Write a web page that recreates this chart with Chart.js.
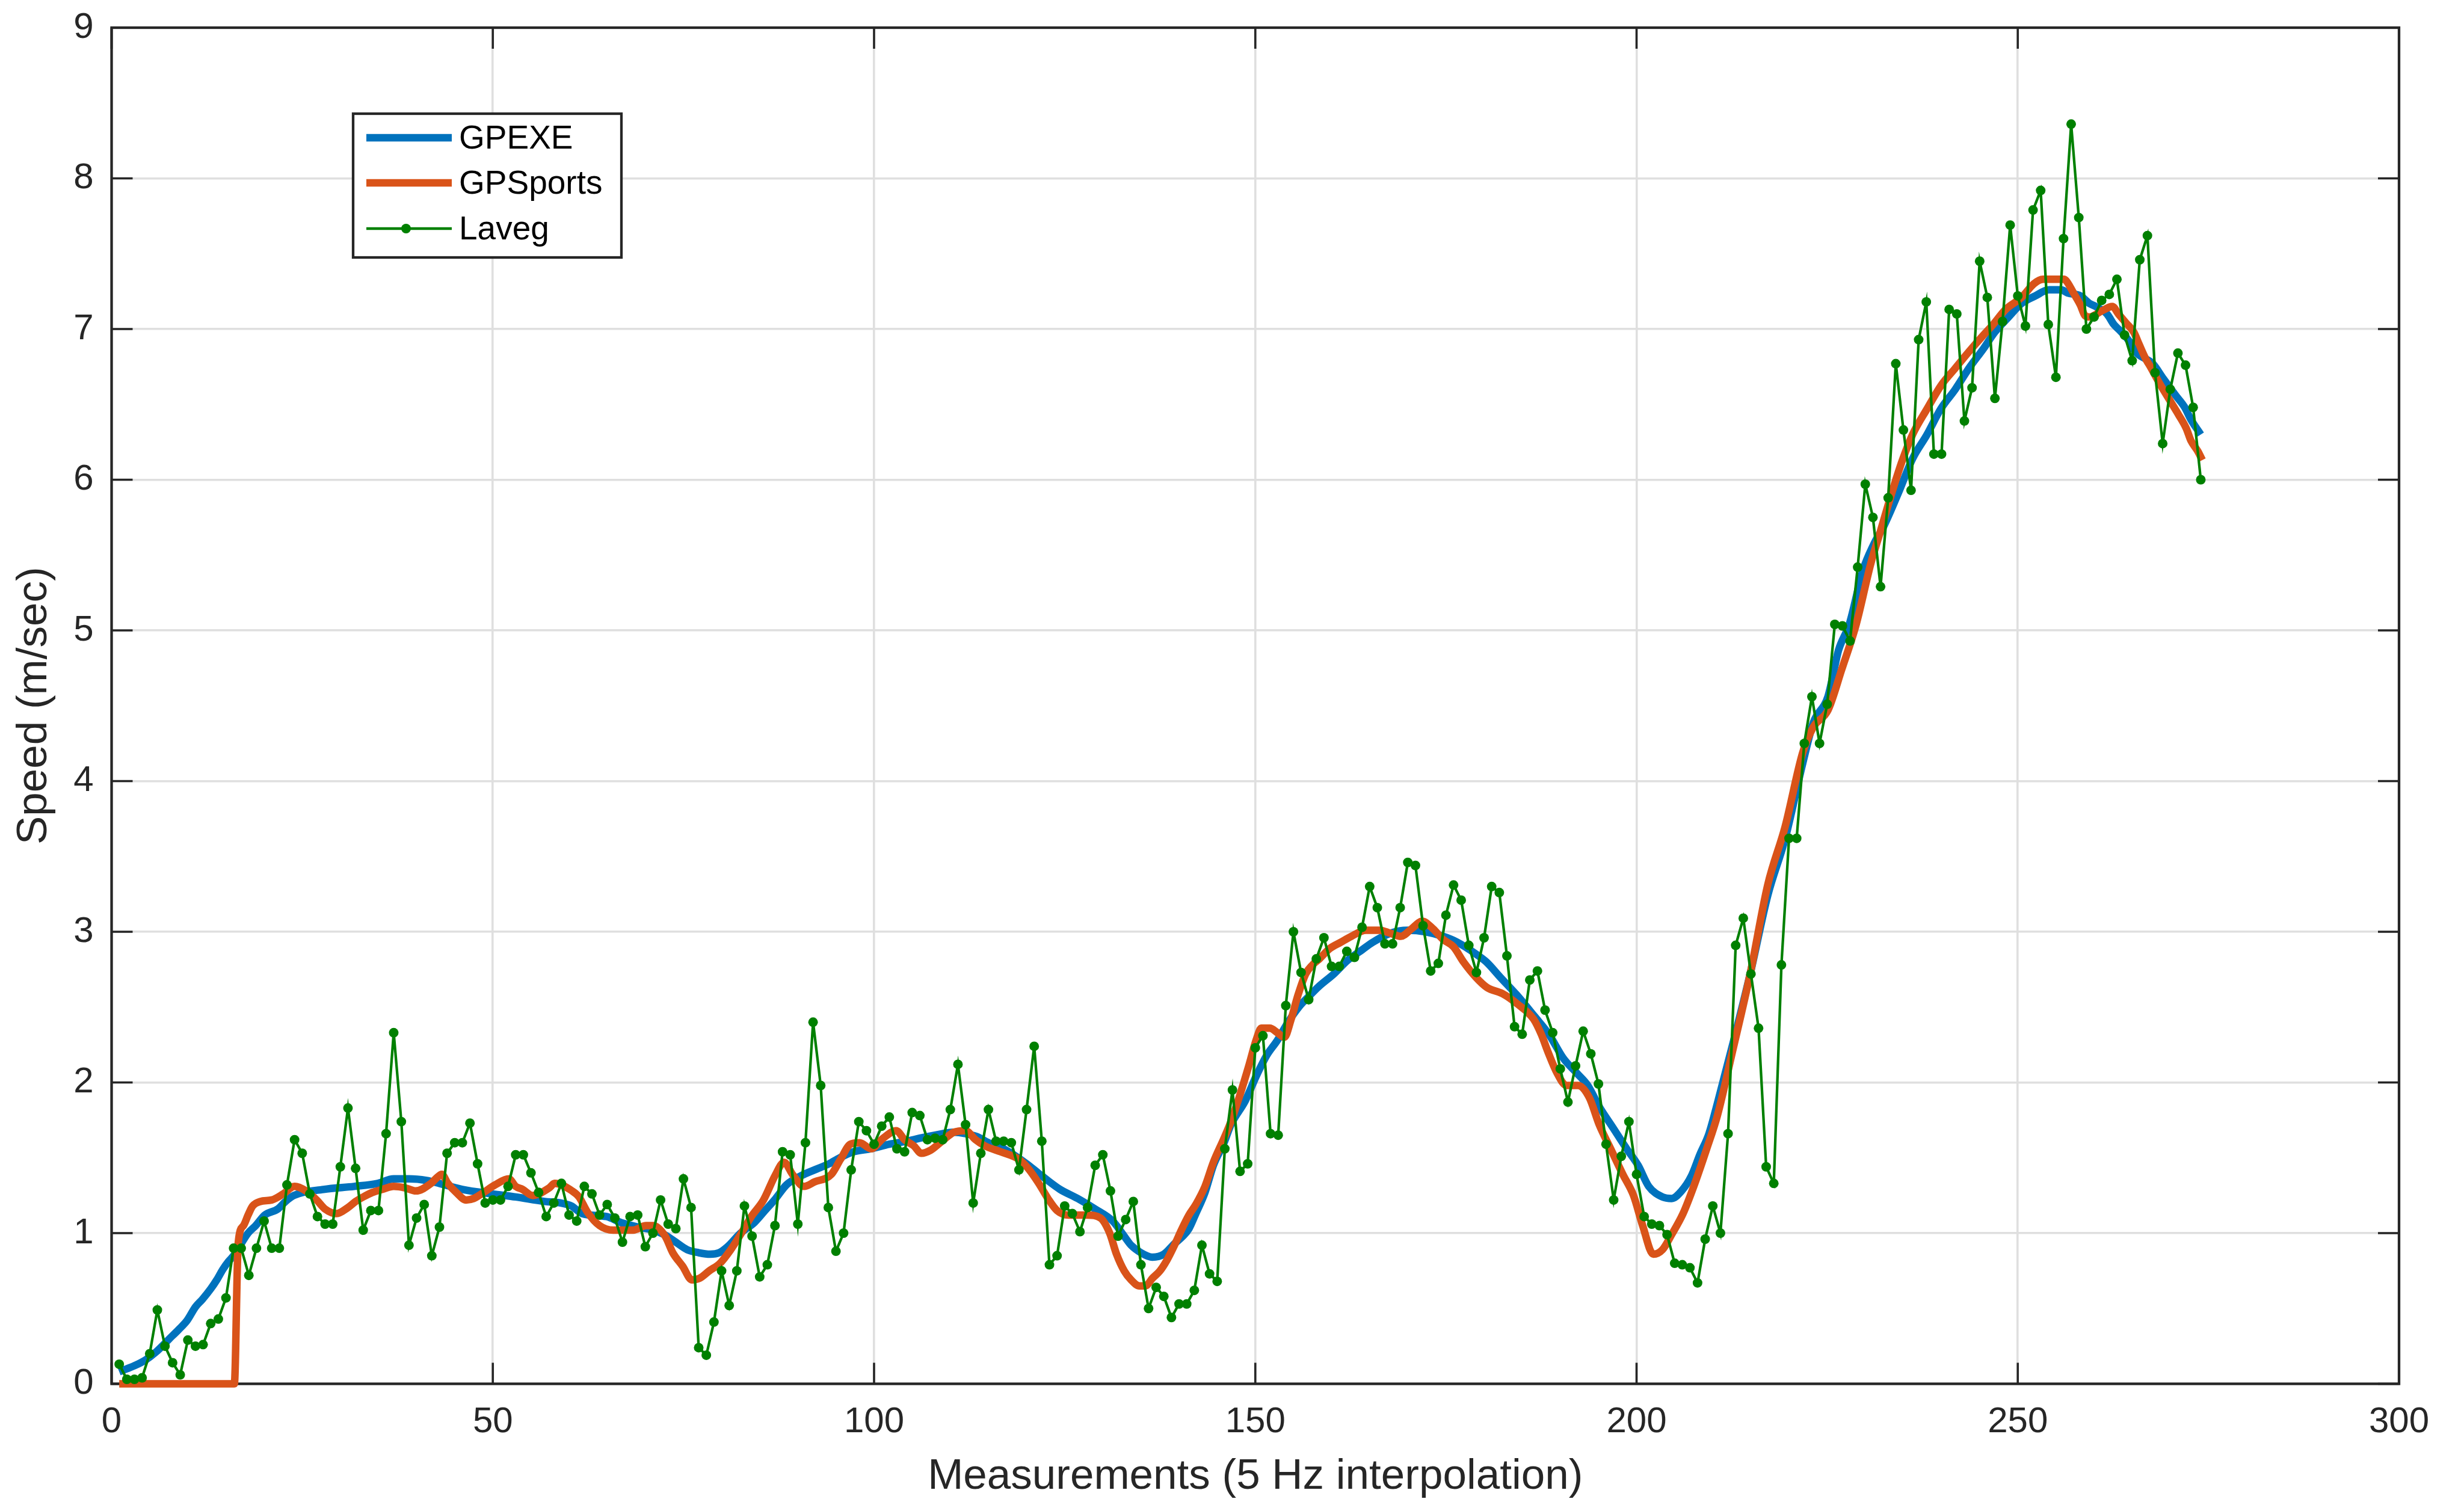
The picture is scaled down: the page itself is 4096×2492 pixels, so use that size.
<!DOCTYPE html>
<html>
<head>
<meta charset="utf-8">
<script src="https://cdn.jsdelivr.net/npm/chart.js@4.4.1/dist/chart.umd.min.js"></script>
<style>
  html, body { margin: 0; padding: 0; background: #ffffff; }
  #wrap { position: relative; width: 4096px; height: 2492px; }
</style>
</head>
<body>
<div id="wrap"><canvas id="c"></canvas></div>
<script>
// ---------------- data ----------------
const seriesNames = ['GPEXE', 'GPSports', 'Laveg'];
const xTitle = 'Measurements (5 Hz interpolation)';
const yTitle = 'Speed (m/sec)';
const xTicks = [0, 50, 100, 150, 200, 250, 300];
const yTicks = [0, 1, 2, 3, 4, 5, 6, 7, 8, 9];

const gpexeX = [1,2,3,4.5,5.8,7.6,8.8,9.9,11,11.9,13,13.8,14.6,15.3,16,17.9,18.9,20.1,21.8,22.8,23.9,27.8,31.8,34.9,37,39,41.3,43,46,50,53,56.8,58.9,60.3,61.7,64.9,66.8,69.1,71,72.5,74,75.5,77,78.5,79.7,80.8,82.5,84.3,85.7,87.1,88.5,90.4,92.7,94.1,95.5,97.3,99.6,102,104.3,106,108,110.5,112,113.5,115,117,118.6,120,121.5,122.5,124.4,126.7,129,131.3,132.8,133.7,135,136.5,138,139.4,140.5,141.3,142.2,143.4,144.5,145.9,146.8,148.7,150.1,151.5,152.9,154.3,155.7,157,158.4,160.3,162.1,164,165.4,167.7,170,172.3,174.6,176.5,179,180.3,182.1,184.3,186.6,188.5,190.4,192.2,193.6,195.1,196.9,198.7,200.2,201.6,203.4,204.6,205.9,207.2,208.3,209.5,210.6,212.6,214.9,217.2,219.5,221.8,223.2,225.1,226.5,227.9,229.7,231.1,232.5,234.4,236.2,238.1,239.9,241.8,243.6,245.5,247,248.8,250.5,252.3,254.1,255.7,256.5,258.2,259.4,260.2,261.7,262.6,263.4,264.6,265.4,267.7,269.1,270.7,271.9,272.7,274];
const gpexeY = [0.08,0.10,0.12,0.16,0.21,0.30,0.36,0.42,0.51,0.56,0.63,0.69,0.76,0.81,0.85,1.00,1.05,1.12,1.16,1.21,1.25,1.29,1.31,1.33,1.36,1.36,1.35,1.33,1.29,1.26,1.24,1.21,1.20,1.18,1.13,1.11,1.07,1.04,1.02,0.99,0.94,0.89,0.87,0.86,0.87,0.91,1.00,1.07,1.15,1.23,1.32,1.38,1.43,1.46,1.50,1.54,1.56,1.59,1.61,1.63,1.65,1.67,1.66,1.64,1.60,1.56,1.51,1.46,1.40,1.36,1.29,1.23,1.16,1.08,0.98,0.92,0.87,0.84,0.86,0.93,0.98,1.03,1.13,1.27,1.45,1.60,1.72,1.88,2.04,2.18,2.28,2.40,2.50,2.57,2.64,2.72,2.81,2.88,2.93,2.99,3.01,3.00,2.97,2.93,2.85,2.80,2.70,2.58,2.44,2.32,2.16,2.06,1.98,1.84,1.70,1.56,1.45,1.31,1.24,1.23,1.28,1.38,1.52,1.66,1.86,2.25,2.72,3.24,3.62,4.12,4.39,4.56,4.87,5.04,5.40,5.57,5.70,5.92,6.14,6.30,6.47,6.60,6.74,6.87,6.98,7.08,7.17,7.22,7.26,7.26,7.24,7.22,7.17,7.15,7.10,7.03,6.99,6.92,6.85,6.77,6.67,6.56,6.48,6.40,6.30];

const gpsportsX = [1,16.1,16.6,17.3,17.9,18.5,19.5,21,22.5,24,25.5,26.9,28,29.5,31,32,33,34.2,35.5,37,38.5,39.9,41.9,42.7,43.3,44.1,45.2,46.5,47.5,48.5,50.3,52.1,53,53.9,55.2,57.4,58.1,60.4,61.3,62.4,64,65.8,68.4,70.1,71,72.6,73.6,74.9,76.1,77.1,78.4,79.8,81.2,82.6,83.9,85.5,87,88.2,89.3,90.8,92.2,94.4,95.6,96.9,98.1,99.6,101.2,102.9,104,105.2,106.2,107.4,108.9,110.5,112,113.3,114.5,116.6,119,120.2,121.6,122.8,124,125.5,128,129.7,130.9,131.8,132.8,133.7,134.8,135.6,136.5,137.5,138.4,139.4,140.3,141.3,142.2,143.4,144.5,145.9,146.8,148,149.2,150.1,150.8,151.9,152.9,153.8,154.7,155.6,156.6,157.5,158.4,159.8,161.2,162.6,164.5,166.3,167.7,169.1,170.5,171.9,173.3,174.6,176,177.3,178.9,180.4,182.4,184.4,186.5,187.5,188.4,189.6,190.8,192.3,193.8,195.1,196.6,198.2,199.6,200.8,202.2,203.4,204.6,206.1,207.5,209.2,210.6,212.6,214.9,217.2,219.5,221.8,223.2,225.1,226.9,228.8,230.7,232,233.4,234.8,236.2,238.1,240,241.8,243.6,245.5,246.6,248.4,250.5,252.1,253.3,256.1,256.5,257.3,258.2,258.8,259.4,261,262.4,263.2,264.2,265.2,265.9,266.7,267.5,268.7,269.9,271.1,272.1,272.7,273.6,274.2];
const gpsportsY = [0,0,0.93,1.05,1.12,1.18,1.21,1.22,1.26,1.31,1.28,1.22,1.16,1.13,1.17,1.21,1.24,1.27,1.29,1.31,1.30,1.28,1.33,1.37,1.39,1.33,1.27,1.22,1.23,1.26,1.32,1.36,1.31,1.29,1.25,1.30,1.33,1.28,1.24,1.14,1.05,1.02,1.02,1.05,1.05,0.98,0.87,0.78,0.69,0.70,0.75,0.80,0.89,1.00,1.11,1.22,1.38,1.47,1.39,1.31,1.34,1.39,1.49,1.59,1.60,1.56,1.63,1.68,1.62,1.58,1.53,1.55,1.61,1.67,1.68,1.62,1.58,1.54,1.49,1.43,1.33,1.23,1.15,1.12,1.12,1.10,1.00,0.86,0.75,0.69,0.65,0.65,0.70,0.75,0.82,0.92,1.02,1.12,1.19,1.31,1.47,1.63,1.74,1.92,2.12,2.28,2.36,2.36,2.33,2.30,2.42,2.58,2.72,2.78,2.82,2.89,2.93,2.97,3.01,3.01,2.99,2.97,3.02,3.07,3.02,2.95,2.90,2.80,2.70,2.63,2.59,2.52,2.42,2.32,2.20,2.06,1.98,1.98,1.90,1.72,1.56,1.39,1.25,1.05,0.86,0.89,0.99,1.13,1.31,1.56,1.78,2.21,2.72,3.31,3.70,4.19,4.36,4.47,4.74,5.04,5.44,5.66,5.90,6.12,6.30,6.47,6.63,6.74,6.85,6.96,7.02,7.13,7.21,7.30,7.33,7.33,7.31,7.24,7.16,7.09,7.08,7.12,7.15,7.10,7.04,6.98,6.90,6.81,6.74,6.63,6.53,6.43,6.34,6.26,6.19,6.13];

const lavegY = [
  0.13,0.03,0.03,0.04,0.20,0.49,0.25,0.14,0.06,0.29,
  0.25,0.26,0.40,0.43,0.57,0.90,0.90,0.72,0.90,1.08,
  0.90,0.90,1.32,1.62,1.53,1.26,1.11,1.06,1.06,1.44,
  1.83,1.43,1.02,1.15,1.15,1.66,2.33,1.74,0.92,1.10,
  1.19,0.85,1.04,1.53,1.60,1.60,1.73,1.46,1.20,1.22,
  1.22,1.31,1.52,1.52,1.40,1.27,1.11,1.20,1.33,1.12,
  1.08,1.31,1.26,1.12,1.19,1.10,0.94,1.11,1.12,0.91,
  1.00,1.22,1.06,1.03,1.36,1.17,0.24,0.19,0.41,0.75,
  0.52,0.75,1.18,0.98,0.71,0.79,1.05,1.54,1.52,1.06,
  1.60,2.40,1.98,1.17,0.88,1.00,1.42,1.74,1.68,1.59,
  1.71,1.77,1.56,1.54,1.80,1.78,1.62,1.63,1.62,1.82,
  2.12,1.72,1.20,1.53,1.82,1.61,1.61,1.60,1.42,1.82,
  2.24,1.61,0.79,0.85,1.18,1.13,1.01,1.17,1.45,1.52,
  1.28,0.98,1.09,1.21,0.79,0.50,0.64,0.58,0.44,0.53,
  0.53,0.62,0.92,0.73,0.68,1.56,1.95,1.41,1.46,2.23,
  2.31,1.66,1.65,2.51,3.00,2.73,2.55,2.82,2.96,2.77,
  2.77,2.87,2.83,3.03,3.30,3.16,2.92,2.92,3.16,3.46,
  3.44,3.04,2.74,2.79,3.11,3.31,3.21,2.91,2.73,2.96,
  3.30,3.26,2.84,2.37,2.32,2.68,2.74,2.48,2.33,2.09,
  1.87,2.11,2.34,2.19,1.99,1.59,1.22,1.51,1.74,1.39,
  1.11,1.06,1.05,0.99,0.80,0.79,0.77,0.67,0.96,1.18,
  1.00,1.66,2.91,3.09,2.72,2.36,1.44,1.33,2.78,3.62,
  3.62,4.25,4.56,4.25,4.51,5.04,5.03,4.93,5.42,5.97,
  5.75,5.29,5.88,6.77,6.33,5.93,6.93,7.18,6.17,6.17,
  7.13,7.10,6.39,6.61,7.45,7.21,6.54,7.05,7.69,7.22,
  7.02,7.79,7.92,7.03,6.68,7.60,8.36,7.74,7.00,7.08,
  7.19,7.23,7.33,6.96,6.79,7.46,7.62,6.71,6.24,6.60,
  6.84,6.76,6.48,6.00
];
const lavegX = lavegY.map((_, i) => i + 1);

// ---------------- style ----------------
const FONT = "'Liberation Sans', Arial, Helvetica, sans-serif";
const AXIS_COLOR = '#262626';
const GRID_COLOR = '#dfdfdf';
const COLORS = ['#0072BD', '#D95319', '#008000'];

const toPoints = (xs, ys) => xs.map((x, i) => ({ x: x, y: ys[i] }));

const boxPlugin = {
  id: 'matlabBox',
  beforeDatasetsDraw(chart) {
    const { ctx, chartArea: a, scales } = chart;
    const xs = scales.x, ys = scales.y;
    const tl = 35;
    ctx.save();
    ctx.strokeStyle = AXIS_COLOR;
    ctx.lineWidth = 3.6;
    ctx.lineCap = 'butt';
    ctx.beginPath();
    xTicks.forEach(v => {
      const px = xs.getPixelForValue(v);
      ctx.moveTo(px, a.bottom); ctx.lineTo(px, a.bottom - tl);
      ctx.moveTo(px, a.top); ctx.lineTo(px, a.top + tl);
    });
    yTicks.forEach(v => {
      const py = ys.getPixelForValue(v);
      ctx.moveTo(a.left, py); ctx.lineTo(a.left + tl, py);
      ctx.moveTo(a.right, py); ctx.lineTo(a.right - tl, py);
    });
    ctx.stroke();
    ctx.lineWidth = 4.3;
    ctx.lineJoin = 'miter';
    ctx.strokeRect(a.left, a.top, a.right - a.left, a.bottom - a.top);
    ctx.restore();
  },
  afterDraw(chart) {
    const { ctx, chartArea: a } = chart;
    const L = a.left + 401.5, T = a.top + 143, W = 446, H = 239;
    const rows = [40, 115, 191];
    ctx.save();
    ctx.fillStyle = '#ffffff';
    ctx.fillRect(L, T, W, H);
    ctx.strokeStyle = AXIS_COLOR;
    ctx.lineWidth = 4.3;
    ctx.strokeRect(L, T, W, H);
    chart.data.datasets.forEach((ds, i) => {
      const y = T + rows[i];
      ctx.strokeStyle = ds.borderColor;
      ctx.lineWidth = ds.borderWidth;
      ctx.lineCap = 'butt';
      ctx.beginPath();
      ctx.moveTo(L + 22, y);
      ctx.lineTo(L + 164, y);
      ctx.stroke();
      if (ds.pointRadius > 0) {
        ctx.fillStyle = ds.pointBackgroundColor;
        ctx.beginPath();
        ctx.arc(L + 88, y, ds.pointRadius, 0, Math.PI * 2);
        ctx.fill();
      }
      ctx.fillStyle = '#000000';
      ctx.font = '55px ' + FONT;
      ctx.textAlign = 'left';
      ctx.textBaseline = 'middle';
      ctx.fillText(ds.label, L + 176, y + 3);
    });
    ctx.restore();
  }
};

const tickFont = { family: FONT, size: 60 };
const titleFont = { family: FONT, size: 71, lineHeight: 1 };

new Chart(document.getElementById('c'), {
  type: 'line',
  data: {
    datasets: [
      {
        label: seriesNames[0], data: toPoints(gpexeX, gpexeY),
        borderColor: COLORS[0], backgroundColor: COLORS[0], borderWidth: 12.5,
        pointRadius: 0, cubicInterpolationMode: 'monotone', order: 3, clip: false,
        borderJoinStyle: 'round'
      },
      {
        label: seriesNames[1], data: toPoints(gpsportsX, gpsportsY),
        borderColor: COLORS[1], backgroundColor: COLORS[1], borderWidth: 12.5,
        pointRadius: 0, cubicInterpolationMode: 'monotone', order: 2, clip: false,
        borderJoinStyle: 'round'
      },
      {
        label: seriesNames[2], data: toPoints(lavegX, lavegY),
        borderColor: COLORS[2], backgroundColor: COLORS[2], borderWidth: 4.3,
        pointRadius: 8, pointBorderWidth: 0, pointBackgroundColor: COLORS[2],
        pointStyle: 'circle', tension: 0, order: 1, clip: false
      }
    ]
  },
  options: {
    responsive: true,
    maintainAspectRatio: false,
    devicePixelRatio: 1,
    animation: false,
    events: [],
    layout: { padding: { left: 0, top: 46, right: 108, bottom: 0 } },
    plugins: { legend: { display: false }, tooltip: { enabled: false } },
    scales: {
      x: {
        type: 'linear', min: 0, max: 300,
        afterBuildTicks: s => { s.ticks = xTicks.map(v => ({ value: v })); },
        ticks: { font: tickFont, color: AXIS_COLOR, padding: 28, maxRotation: 0, autoSkip: false },
        grid: { color: GRID_COLOR, lineWidth: 3.6, drawTicks: false },
        border: { display: false },
        title: { display: true, text: xTitle, font: titleFont, color: AXIS_COLOR, padding: { top: 0, bottom: 1 } },
        afterFit: s => { s.height = 191.5; s.paddingLeft = 0; s.paddingRight = 0; }
      },
      y: {
        type: 'linear', min: 0, max: 9,
        afterBuildTicks: s => { s.ticks = yTicks.map(v => ({ value: v })); },
        ticks: { font: tickFont, color: AXIS_COLOR, padding: 30, autoSkip: false },
        grid: { color: GRID_COLOR, lineWidth: 3.6, drawTicks: false },
        border: { display: false },
        title: { display: true, text: yTitle, font: titleFont, color: AXIS_COLOR, padding: { top: 22, bottom: 0 } },
        afterFit: s => { s.width = 185.5; s.paddingTop = 0; s.paddingBottom = 0; }
      }
    }
  },
  plugins: [boxPlugin]
});
</script>
</body>
</html>
